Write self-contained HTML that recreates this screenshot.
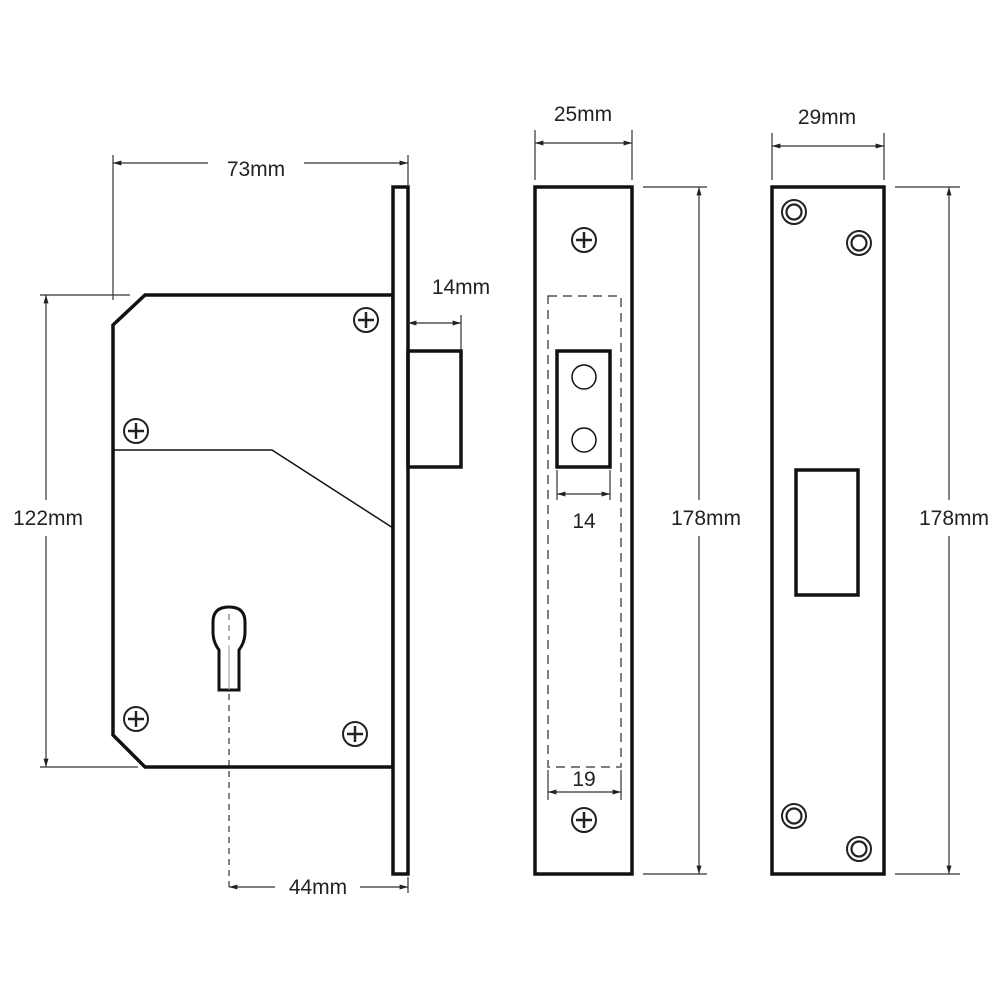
<!DOCTYPE html>
<html><head><style>body{margin:0;background:#fff}svg{display:block}</style></head><body>
<svg width="1000" height="1000" viewBox="0 0 1000 1000" xmlns="http://www.w3.org/2000/svg">
<defs>
<marker id="a" viewBox="0 0 10 10" refX="10" refY="5" markerWidth="7" markerHeight="7" orient="auto-start-reverse"><path d="M0,2 L10,5 L0,8z" fill="#222"/></marker>
<g id="sc"><circle r="12" fill="#fff" stroke="#222" stroke-width="2"/><path d="M-8,0H8M0,-8V8" stroke="#222" stroke-width="2.5"/></g>
<g id="rg"><circle r="12" fill="#fff" stroke="#222" stroke-width="2"/><circle r="7.5" fill="none" stroke="#222" stroke-width="2.2"/></g>
</defs>
<g fill="none" stroke="#111">
<path d="M113,325 L145,295 L393,295 L393,767 L145,767 L113,735 Z" stroke-width="3.5" fill="#fff"/>
<rect x="393" y="187" width="15" height="687" stroke-width="3.5" fill="#fff"/>
<rect x="408" y="351" width="53" height="116" stroke-width="3.5"/>
<path d="M113,450 L272,450 L393,528" stroke-width="1.5"/>
<path d="M219,690 V650 Q213,642 213,632 V622 Q213,607 229,607 Q245,607 245,622 V632 Q245,642 239,650 V690 Z" stroke-width="3" fill="#fff"/>
<path d="M229,614 V640" stroke-width="1.2" stroke="#777" stroke-dasharray="6,5"/>
<path d="M229,645 V690" stroke-width="1" stroke="#999"/>
<g stroke-width="1.2" stroke="#333">
<path d="M113,163 H208 M304,163 H408" marker-start="url(#a)" marker-end="url(#a)"/>
<path d="M113,155 V300 M408,155 V187 M40,295 H130 M40,767 H138 M461,315 V350 M408,893 V877"/>
<path d="M408,323 H461" marker-start="url(#a)" marker-end="url(#a)"/>
<path d="M46,295 V500 M46,536 V767" marker-start="url(#a)" marker-end="url(#a)"/>
<path d="M229,887 H275 M360,887 H408" marker-start="url(#a)" marker-end="url(#a)"/>
<path d="M229,694 V887" stroke-dasharray="6,5"/>
</g>
<rect x="535" y="187" width="97" height="687" stroke-width="3.5"/>
<rect x="548" y="296" width="73" height="471" stroke-width="1.5" stroke-dasharray="9,6" stroke="#555"/>
<rect x="557" y="351" width="53" height="116" stroke-width="3.5"/>
<circle cx="584" cy="377" r="12" stroke-width="1.5"/>
<circle cx="584" cy="440" r="12" stroke-width="1.5"/>
<g stroke-width="1.2" stroke="#333">
<path d="M557,494 H610" marker-start="url(#a)" marker-end="url(#a)"/>
<path d="M557,470 V500 M610,470 V500 M548,770 V800 M621,770 V800"/>
<path d="M548,792 H621" marker-start="url(#a)" marker-end="url(#a)"/>
<path d="M535,143 H632" marker-start="url(#a)" marker-end="url(#a)"/>
<path d="M535,130 V180 M632,130 V180 M643,187 H707 M643,874 H707 M772,133 V180 M884,133 V180 M895,187 H960 M895,874 H960"/>
<path d="M699,187 V500 M699,536 V874" marker-start="url(#a)" marker-end="url(#a)"/>
<path d="M772,146 H884" marker-start="url(#a)" marker-end="url(#a)"/>
<path d="M949,187 V500 M949,536 V874" marker-start="url(#a)" marker-end="url(#a)"/>
</g>
<rect x="772" y="187" width="112" height="687" stroke-width="3.5"/>
<rect x="796" y="470" width="62" height="125" stroke-width="3.5"/>
</g>
<use href="#sc" x="366" y="320"/><use href="#sc" x="136" y="431"/><use href="#sc" x="136" y="719"/><use href="#sc" x="355" y="734"/>
<use href="#sc" x="584" y="240"/><use href="#sc" x="584" y="820"/>
<use href="#rg" x="794" y="212"/><use href="#rg" x="859" y="243"/><use href="#rg" x="794" y="816"/><use href="#rg" x="859" y="849"/>
<g font-family="Liberation Sans, sans-serif" font-size="21" fill="#222" text-anchor="middle">
<text x="256" y="176">73mm</text>
<text x="461" y="294">14mm</text>
<text x="48" y="525">122mm</text>
<text x="318" y="894">44mm</text>
<text x="583" y="121">25mm</text>
<text x="827" y="124">29mm</text>
<text x="584" y="528">14</text>
<text x="584" y="786">19</text>
<text x="706" y="525">178mm</text>
<text x="954" y="525">178mm</text>
</g>
</svg>
</body></html>
